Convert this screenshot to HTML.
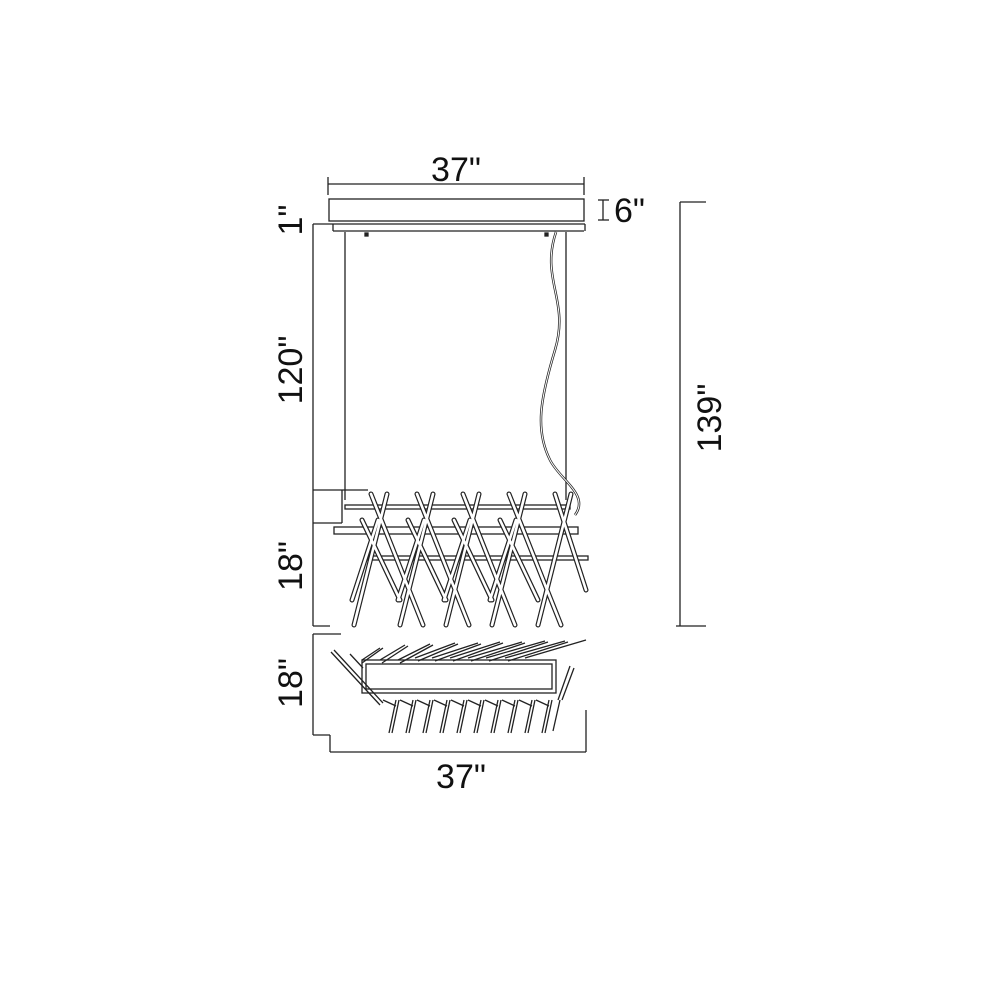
<!DOCTYPE html>
<html><head><style>body{margin:0;background:#fff}svg{display:block}</style></head><body>
<svg width="1000" height="1000" viewBox="0 0 1000 1000" xmlns="http://www.w3.org/2000/svg" font-family="Liberation Sans, sans-serif">
<rect width="1000" height="1000" fill="#fff"/>
<g stroke="#222" fill="none" stroke-width="1.3">
<line x1="328" y1="184" x2="584" y2="184"/><line x1="328" y1="177" x2="328" y2="195"/><line x1="584" y1="177" x2="584" y2="195"/>
<rect x="329" y="199" width="255" height="22"/>
<line x1="313" y1="224" x2="585" y2="224"/><line x1="333" y1="231" x2="584" y2="231"/><line x1="333" y1="224" x2="333" y2="231"/><line x1="585" y1="224" x2="585" y2="231"/>
<line x1="598" y1="200" x2="609" y2="200"/><line x1="598" y1="220" x2="609" y2="220"/><line x1="603" y1="200" x2="603" y2="220"/>
<line x1="680" y1="202" x2="706" y2="202"/><line x1="680" y1="202" x2="680" y2="626"/><line x1="676" y1="626" x2="706" y2="626"/>
<line x1="313" y1="224" x2="313" y2="626"/><line x1="313" y1="490" x2="368" y2="490"/><line x1="342" y1="490" x2="342" y2="523"/><line x1="313" y1="523" x2="342" y2="523"/><line x1="313" y1="626" x2="330" y2="626"/>
<line x1="345" y1="232" x2="345" y2="500"/><line x1="566" y1="232" x2="566" y2="500"/>
<path d="M556 232 C540 280 570 300 555 350 C540 400 535 430 550 460 C560 480 590 495 575 515" stroke-width="2.5"/>
<path d="M556 232 C540 280 570 300 555 350 C540 400 535 430 550 460 C560 480 590 495 575 515" stroke="#fff" stroke-width="1"/>
<rect x="365" y="233" width="3" height="3" fill="#222"/><rect x="545" y="233" width="3" height="3" fill="#222"/>
<rect x="334" y="527" width="244" height="7" fill="#fff"/>
<rect x="368" y="556" width="220" height="4" fill="#fff"/>
<rect x="345" y="505" width="225" height="4" fill="#fff"/>
</g>
<g stroke="#222" stroke-width="5" stroke-linecap="round">
<path d="M371 494 L423 625 M387 494 L354 625 M362 520 L400 600 M378 520 L352 600
M417 494 L469 625 M433 494 L400 625 M408 520 L446 600 M424 520 L398 600
M463 494 L515 625 M479 494 L446 625 M454 520 L492 600 M470 520 L444 600
M509 494 L561 625 M525 494 L492 625 M500 520 L538 600 M516 520 L490 600
M555 494 L586 590 M571 494 L538 625"/>
</g>
<g stroke="#fff" stroke-width="2.6" stroke-linecap="round">
<path d="M371 494 L423 625 M387 494 L354 625 M362 520 L400 600 M378 520 L352 600
M417 494 L469 625 M433 494 L400 625 M408 520 L446 600 M424 520 L398 600
M463 494 L515 625 M479 494 L446 625 M454 520 L492 600 M470 520 L444 600
M509 494 L561 625 M525 494 L492 625 M500 520 L538 600 M516 520 L490 600
M555 494 L586 590 M571 494 L538 625"/>
</g>
<g stroke="#222" fill="none" stroke-width="1.3">
<line x1="313" y1="634" x2="341" y2="634"/><line x1="313" y1="634" x2="313" y2="735"/><line x1="313" y1="735" x2="330" y2="735"/><line x1="330" y1="735" x2="330" y2="752"/><line x1="330" y1="752" x2="586" y2="752"/><line x1="586" y1="710" x2="586" y2="752"/>
<rect x="362" y="660" width="194" height="33"/><rect x="366" y="664" width="186" height="25"/>
<path d="M362 660 L380 648 M380 660 L405 645 M398 660 L430 644 M415 658 L455 643 M432 658 L478 643 M450 658 L500 642 M468 658 L522 642 M486 658 L545 641 M505 658 L565 641 M525 658 L586 640
M362 663 L383 648 M382 663 L408 646 M400 663 L433 645 M418 661 L458 644 M435 661 L481 644 M453 661 L503 643 M471 661 L525 643 M489 661 L548 642 M508 661 L568 642"/>
<path d="M331 652 L380 705 M334 650 L383 703 M350 654 L363 668"/>
<path d="M558 700 L570 666 M562 700 L574 668 M553 731 L560 700"/>
<g id="lr"><path d="M389 733 L396 700 M392 733 L399 700 M383 700 L396 706"/></g>
<use href="#lr" x="17"/><use href="#lr" x="34"/><use href="#lr" x="51"/><use href="#lr" x="68"/><use href="#lr" x="85"/><use href="#lr" x="102"/><use href="#lr" x="119"/><use href="#lr" x="136"/><use href="#lr" x="153"/>
</g>
<g fill="#111" font-size="34">
<text x="456" y="181" text-anchor="middle">37"</text>
<text x="614" y="222">6"</text>
<text x="461" y="788" text-anchor="middle">37"</text>
<text transform="translate(302,220) rotate(-90)" text-anchor="middle">1"</text>
<text transform="translate(302,370) rotate(-90)" text-anchor="middle">120"</text>
<text transform="translate(302,566) rotate(-90)" text-anchor="middle">18"</text>
<text transform="translate(302,683) rotate(-90)" text-anchor="middle">18"</text>
<text transform="translate(721,418) rotate(-90)" text-anchor="middle">139"</text>
</g>
</svg>
</body></html>
